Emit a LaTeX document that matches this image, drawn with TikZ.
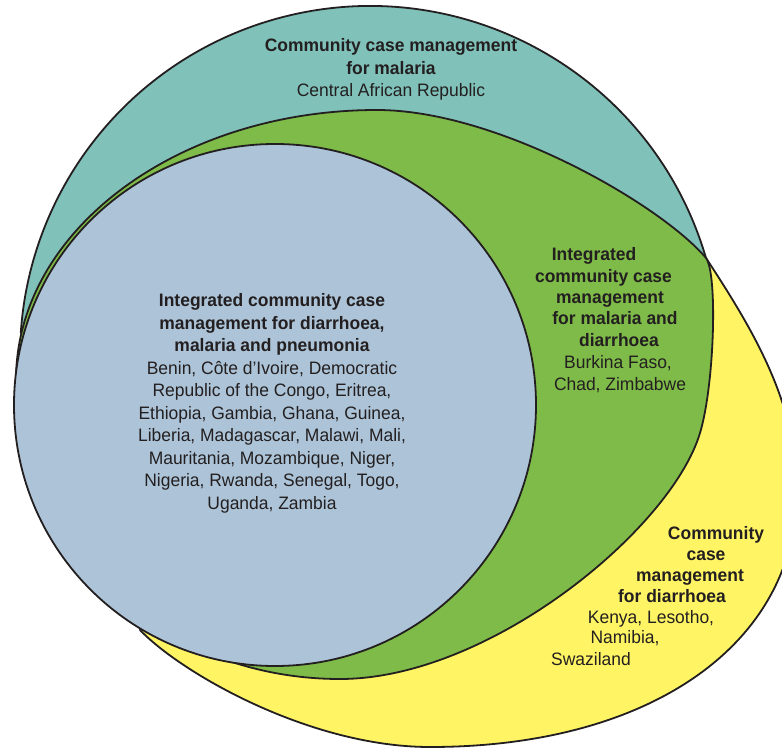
\documentclass[tikz,border=0pt]{standalone}
\usepackage{fontspec}
\setmainfont{Liberation Sans}[FakeStretch=0.97]
\definecolor{malc}{RGB}{128,193,185}
\definecolor{mdc}{RGB}{126,187,72}
\definecolor{iccmc}{RGB}{173,196,216}
\definecolor{diac}{RGB}{255,245,100}
\definecolor{inkc}{RGB}{35,31,32}
\tikzset{
  venn/.style={draw=inkc,line width=1.8pt,line join=round},
  lbl/.style={inner sep=0pt,text=inkc,font=\fontsize{18}{22.5}\selectfont},
  hd/.style={lbl,font=\fontsize{18}{22.5}\selectfont\bfseries}
}
\begin{document}
\begin{tikzpicture}[x=1pt,y=-1pt]
\useasboundingbox (0,0) rectangle (782,749);
\clip (0,0) rectangle (782,749);
\coordinate (O) at (370,356);% malaria circle
\coordinate (B) at (275,405);% iCCM circle
\coordinate (X) at (705.9,257.8);% where malaria, diarrhoea and the green set meet
% diarrhoea
\filldraw[venn,fill=diac] (X) .. controls (749.4,324.6) and (797,400) .. (797,490)
  .. controls (797,644.2) and (650.2,747) .. (430,747)
  .. controls (310,747) and (181.4,673.2) .. (140,630) -- (230,420) -- (480,190) -- (688,233) -- cycle;
% malaria
\filldraw[venn,fill=malc] (O) ++(-16.3:350) arc[start angle=-16.3,end angle=-176.2,radius=350] -- (B) -- cycle;
% malaria and diarrhoea
\filldraw[venn,fill=mdc] (377,110) .. controls (497,110) and (660,204) .. (X)
  .. controls (717.8,273.4) and (714.4,385.1) .. (700,433)
  .. controls (671.3,528.8) and (490,679) .. (340,679)
  arc[start angle=90,end angle=180,x radius=324,y radius=299]
  arc[start angle=180,end angle=270,x radius=361,y radius=270] -- cycle;
% diarrhoea, malaria and pneumonia
\filldraw[venn,fill=iccmc] (B) circle[radius=261];

\node[lbl,align=center,anchor=north] (mal) at (391,38.7) {{\bfseries Community case management}\\{\bfseries for malaria}\\Central African Republic};
\node[lbl,align=center,anchor=north] (iccm) at (272,293.7) {{\bfseries Integrated community case}\\{\bfseries management for diarrhoea,}\\{\bfseries malaria and pneumonia}\\Benin, Côte d’Ivoire, Democratic\\Republic of the Congo, Eritrea,\\Ethiopia, Gambia, Ghana, Guinea,\\Liberia, Madagascar, Malawi, Mali,\\Mauritania, Mozambique, Niger,\\Nigeria, Rwanda, Senegal, Togo,\\Uganda, Zambia};
\foreach \xc/\yb/\txt [count=\i] in {594/260/Integrated,603.5/282/community case,610/303/management,615/324/for malaria and,619/346/diarrhoea}
  \node[hd,anchor=base] (md\i) at (\xc,\yb) {\txt};
\foreach \xc/\yb/\txt [count=\i] in {618/368/{Burkina Faso,},620/390/{Chad, Zimbabwe}}
  \node[lbl,anchor=base] (mdc\i) at (\xc,\yb) {\txt};
\foreach \xc/\yb/\txt [count=\i] in {716/539/Community,706/560/case,690/581/management,672/602/for diarrhoea}
  \node[hd,anchor=base] (dia\i) at (\xc,\yb) {\txt};
\foreach \xc/\yb/\txt [count=\i] in {651/623/{Kenya, Lesotho,},625/643/{Namibia,},591/665/Swaziland}
  \node[lbl,anchor=base] (diac\i) at (\xc,\yb) {\txt};
\end{tikzpicture}
\end{document}
